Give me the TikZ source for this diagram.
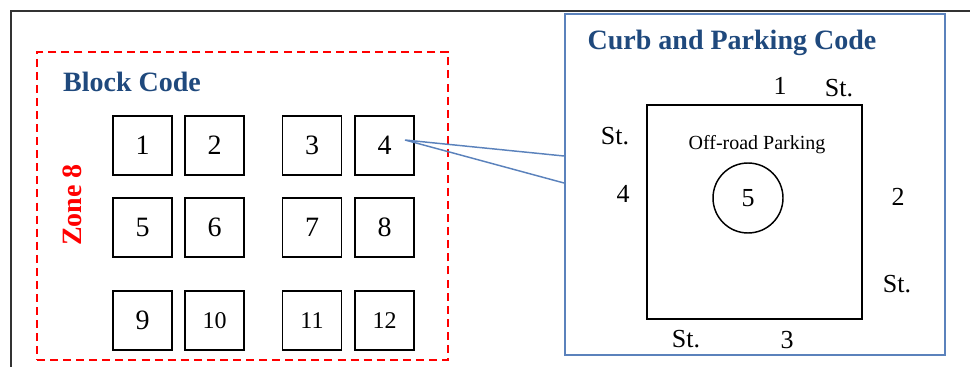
\documentclass[tikz,border=0pt]{standalone}
\usepackage{fontspec}
\setmainfont{Liberation Serif}
\definecolor{titleblue}{HTML}{1F497D}
\definecolor{frameblue}{HTML}{5B82BC}
\begin{document}
\begin{tikzpicture}[x=0.75pt,y=-0.75pt,
  blk/.style={draw=black,line width=1.3pt,minimum size=44.25pt,inner sep=0pt,
    font=\fontsize{21}{21}\selectfont},
  blksmall/.style={blk,font=\fontsize{18}{18}\selectfont},
  title/.style={text=titleblue,font=\fontsize{21}{21}\selectfont\bfseries,anchor=base,inner sep=0pt},
  street/.style={font=\fontsize{19.5}{19.5}\selectfont,anchor=base,inner sep=0pt},
  callout/.style={draw=frameblue,line width=1.1pt}]
\useasboundingbox (0,0) rectangle (970,367);
% outer frame (top and left edges)
\draw[line width=1.1pt,black!80] (11,367) -- (11,11) -- (970,11);
% zone area
\node[draw=red,dashed,dash pattern=on 6pt off 3.8pt,line width=1.3pt,
  minimum width=308.25pt,minimum height=231pt,inner sep=0pt] (zone) at (242.5,206) {};
\node[title] (blocktitle) at (132,92) {Block Code};
\node[rotate=90,text=red,font=\fontsize{21}{21}\selectfont\bfseries,inner sep=0pt] (zonelbl) at (72,205) {Zone 8};
% blocks
\node[blk] (b1) at (142.5,145.5) {1};
\node[blk] (b2) at (214.5,145.5) {2};
\node[blk] (b3) at (312,145.5) {3};
\node[blk] (b4) at (384.5,145.5) {4};
\node[blk] (b5) at (142.5,227.5) {5};
\node[blk] (b6) at (214.5,227.5) {6};
\node[blk] (b7) at (312,227.5) {7};
\node[blk] (b8) at (384.5,227.5) {8};
\node[blk] (b9) at (142.5,320.5) {9};
\node[blksmall] (b10) at (214.5,320.5) {10};
\node[blksmall] (b11) at (312,320.5) {11};
\node[blksmall] (b12) at (384.5,320.5) {12};
% detail panel
\node[draw=frameblue,line width=1.3pt,minimum width=285pt,minimum height=255.75pt,
  inner sep=0pt,fill=white] (curb) at (755,184.5) {};
\node[title] (curbtitle) at (732,50) {Curb and Parking Code};
\node[draw=black,line width=1.3pt,minimum width=161.25pt,minimum height=160.5pt,inner sep=0pt] (lot) at (754.5,212) {};
\node[anchor=base,inner sep=0pt,font=\fontsize{15}{15}\selectfont] (offroad) at (757,150) {Off-road Parking};
\node[draw=black,line width=1.1pt,circle,minimum size=52.5pt,inner sep=0pt,
  font=\fontsize{19.5}{19.5}\selectfont] (park) at (748,198) {5};
\node[street] (n1) at (780,95) {1};
\node[street] (st1) at (839,97) {St.};
\node[street] (st4) at (615,145) {St.};
\node[street] (n4) at (623,202) {4};
\node[street] (n2) at (898,205) {2};
\node[street] (st2) at (897,292) {St.};
\node[street] (st3) at (686,347) {St.};
\node[street] (n3) at (787,348) {3};
% callout from block 4 to the panel
\coordinate (tip) at (405,140);
\coordinate (ca) at (564,156);
\coordinate (cb) at (564,183);
\draw[callout] (ca) -- (tip) -- (cb);
\end{tikzpicture}
\end{document}
